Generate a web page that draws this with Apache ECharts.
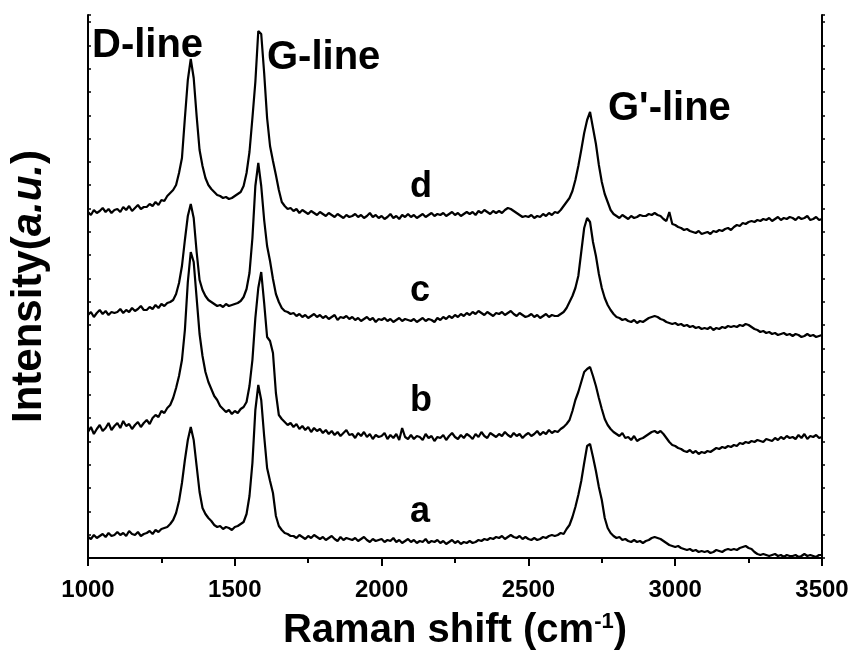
<!DOCTYPE html>
<html>
<head>
<meta charset="utf-8">
<title>Raman spectra</title>
<script src="https://cdn.jsdelivr.net/npm/echarts@6/dist/echarts.min.js"></script>
<style>
  html, body { margin: 0; padding: 0; background: #fff; }
  #chart { width: 851px; height: 654px; }
</style>
</head>
<body>
<div id="chart"></div>
<script>
// ── data (intensity in arbitrary units, one value every 10 cm-1) ──
const SHIFT_MIN = 1000
const SHIFT_MAX = 3500
const SHIFT_STEP = 10
const X_TICKS = [1000, 1500, 2000, 2500, 3000, 3500]

const curveA = [
  21,19,23,20,22,24,21,25,22,23,
  26,23,25,22,27,24,23,26,22,24,
  25,27,24,28,26,29,30,31,34,38,
  45,57,75,98,118,131,118,92,66,50,
  44,40,37,33,31,32,29,31,30,28,
  31,32,34,36,44,62,95,148,173,158,
  122,90,77,65,42,32,28,25,24,22,
  22,20,23,21,19,22,20,23,21,19,
  21,18,20,22,19,17,21,18,20,19,
  18,20,17,19,21,18,16,19,17,18,
  19,16,18,17,20,16,18,15,17,19,
  16,18,15,17,16,19,15,17,16,18,
  15,17,14,16,18,15,17,14,16,15,
  17,15,16,18,17,19,18,20,19,21,
  20,22,19,21,23,21,20,22,19,21,
  19,18,20,18,19,21,20,22,23,22,
  23,25,24,29,33,41,51,63,77,95,
  112,114,101,87,71,58,40,30,25,22,
  20,21,18,19,17,16,18,16,17,15,
  17,18,20,21,20,19,17,15,13,12,
  11,12,10,9,8,9,7,8,6,7,
  6,7,5,6,8,7,6,8,9,8,
  9,8,10,11,12,10,9,6,4,3,
  4,3,2,3,4,2,3,1,3,2,
  2,3,1,2,4,2,3,2,1,3,
  3
]

const curveB = [
  126,131,124,129,133,127,130,135,128,132,
  135,130,137,132,134,129,133,136,131,135,
  138,134,140,143,141,147,145,150,153,160,
  170,182,198,228,276,306,296,260,224,202,
  186,176,169,162,158,152,149,146,148,144,
  147,145,149,151,156,172,198,240,270,286,
  255,221,217,205,165,143,139,136,133,135,
  131,134,129,132,128,131,126,130,127,129,
  125,128,124,127,123,126,122,125,128,123,
  124,120,125,122,126,121,124,119,123,121,
  122,125,119,123,120,124,118,130,121,119,
  123,119,122,121,118,124,120,122,117,121,
  120,123,118,122,125,121,119,123,120,124,
  122,119,124,121,126,122,120,125,123,121,
  124,122,126,123,121,125,122,124,120,123,
  125,122,124,127,123,126,124,128,125,127,
  126,129,131,134,138,147,158,166,176,186,
  189,191,182,172,160,149,139,133,129,126,
  124,122,125,120,121,118,122,117,119,120,
  122,124,126,127,125,127,124,120,116,113,
  112,110,109,107,106,108,105,107,104,106,
  105,107,106,108,110,109,111,110,112,111,
  113,112,115,114,116,115,117,116,118,117,
  116,119,118,117,120,118,121,119,122,120,
  121,119,123,120,124,119,122,121,123,120,
  121
]

const curveC = [
  243,246,241,245,248,244,247,243,246,245,
  246,249,245,248,246,250,247,249,252,248,
  248,251,249,253,250,254,252,255,256,258,
  264,275,292,318,342,354,340,306,278,268,
  262,258,256,254,252,253,251,254,252,253,
  254,255,257,261,269,285,320,372,395,372,
  338,312,297,279,264,256,250,247,246,244,
  245,242,244,241,243,240,242,244,241,243,
  240,242,239,241,243,238,241,240,242,239,
  241,238,240,237,239,241,238,240,236,239,
  238,240,237,239,236,238,240,237,239,238,
  237,239,236,238,240,237,239,238,236,240,
  238,241,239,242,240,243,241,244,242,245,
  243,246,244,247,245,243,246,244,242,245,
  244,246,243,245,247,244,242,245,243,241,
  242,244,241,243,240,242,244,241,243,242,
  242,244,246,250,256,262,270,282,306,330,
  340,336,316,302,284,270,260,253,248,244,
  241,240,238,239,237,236,238,235,237,236,
  238,240,241,242,241,239,238,236,235,234,
  235,233,234,232,233,231,232,230,231,229,
  230,229,231,228,230,229,231,230,232,231,
  232,231,233,232,234,233,231,229,228,226,
  227,225,226,224,225,223,224,225,223,224,
  222,224,223,221,222,224,222,223,221,222,
  223
]

const curveD = [
  346,343,348,345,347,350,346,349,345,348,
  349,346,351,348,352,347,350,353,349,351,
  351,354,352,356,353,358,357,362,365,368,
  373,385,400,440,478,499,480,442,408,392,
  380,373,369,366,363,362,360,361,359,360,
  362,364,366,372,385,406,440,476,527,524,
  485,440,412,397,383,368,356,352,349,350,
  347,349,345,348,346,344,347,345,343,346,
  344,342,345,343,341,344,342,340,343,341,
  342,344,341,343,340,342,345,341,343,340,
  342,339,341,344,340,342,339,343,341,344,
  341,343,340,342,344,341,343,345,342,344,
  343,345,342,344,346,343,345,342,344,346,
  344,346,343,347,345,348,346,344,347,345,
  347,345,348,350,349,347,345,343,341,342,
  341,343,340,342,341,344,342,345,343,346,
  345,348,352,356,360,367,378,392,408,425,
  438,446,430,414,393,376,364,356,348,344,
  342,340,343,341,339,342,340,341,343,342,
  342,344,343,345,343,342,339,337,346,334,
  333,331,330,328,329,327,326,325,327,324,
  325,326,324,327,326,328,327,329,330,328,
  331,333,332,335,334,336,337,336,338,337,
  339,338,340,337,339,341,338,340,339,341,
  340,338,341,339,340,342,338,339,341,338,
  339
]

const CURVES = [
  { name: 'a', values: curveA },
  { name: 'b', values: curveB },
  { name: 'c', values: curveC },
  { name: 'd', values: curveD },
]

const Y_MAX = 543
const Y_TICK = 23.3

// ── styling ──
const FONT = "'Liberation Sans', Arial, Helvetica, sans-serif"
const INK = '#000'

const shift = []
for (let x = SHIFT_MIN; x <= SHIFT_MAX; x += SHIFT_STEP) shift.push(x)

const chart = echarts.init(document.getElementById('chart'), null, { renderer: 'canvas' })

const axisLine = { show: true, lineStyle: { color: INK, width: 2 } }

chart.setOption({
  animation: false,
  backgroundColor: '#fff',
  textStyle: { fontFamily: FONT, color: INK },
  grid: { left: 88, right: 29, top: 15, bottom: 96, containLabel: false, outerBoundsMode: 'none' },
  xAxis: [
    {
      type: 'value',
      position: 'bottom',
      min: SHIFT_MIN,
      max: SHIFT_MAX,
      interval: 500,
      axisLine,
      axisTick: { show: true, inside: false, length: 8, lineStyle: { color: INK, width: 2 } },
      minorTick: { show: true, splitNumber: 2, length: 5, lineStyle: { color: INK, width: 2 } },
      splitLine: { show: false },
      axisLabel: {
        margin: 20,
        fontFamily: FONT, fontSize: 24, fontWeight: 'bold', color: INK,
        formatter: (v) => (X_TICKS.includes(v) ? String(v) : ''),
        showMinLabel: true, showMaxLabel: true,
      },
      name: 'Raman shift (cm{sup|-1})',
      nameLocation: 'middle',
      nameGap: 53,
      nameMoveOverlap: false,
      nameTextStyle: {
        fontFamily: FONT, fontSize: 40, fontWeight: 'bold', color: INK,
        rich: { sup: { fontFamily: FONT, fontSize: 22, fontWeight: 'bold', color: INK, verticalAlign: 'top', padding: [0, 0, 4, 0] } },
      },
    },
    {
      type: 'value',
      position: 'top',
      min: SHIFT_MIN,
      max: SHIFT_MAX,
      interval: 250,
      axisLine,
      axisTick: { show: true, inside: true, length: 4, lineStyle: { color: INK, width: 1.5 } },
      axisLabel: { show: false },
      splitLine: { show: false },
    },
  ],
  yAxis: [
    {
      type: 'value',
      position: 'left',
      min: 0,
      max: Y_MAX,
      interval: Y_TICK,
      axisLine,
      axisTick: { show: true, inside: true, length: 3, lineStyle: { color: INK, width: 1.5 } },
      axisLabel: { show: false },
      splitLine: { show: false },
      name: 'Intensity({it|a.u.})',
      nameLocation: 'middle',
      nameRotate: 90,
      nameGap: 38,
      nameMoveOverlap: false,
      nameTextStyle: {
        fontFamily: FONT, fontSize: 42, fontWeight: 'bold', color: INK,
        rich: { it: { fontFamily: FONT, fontSize: 42, fontWeight: 'bold', fontStyle: 'italic', color: INK } },
      },
    },
    {
      type: 'value',
      position: 'right',
      min: 0,
      max: Y_MAX,
      interval: Y_TICK,
      axisLine,
      axisTick: { show: true, inside: false, length: 3, lineStyle: { color: INK, width: 1.5 } },
      axisLabel: { show: false },
      splitLine: { show: false },
    },
  ],
  series: CURVES.map((c) => ({
    name: c.name,
    type: 'line',
    xAxisIndex: 0,
    yAxisIndex: 0,
    data: shift.map((x, i) => [x, c.values[i]]),
    showSymbol: false,
    symbol: 'none',
    lineStyle: { color: INK, width: 2.2 },
    emphasis: { disabled: true },
    clip: true,
  })),
  graphic: [
    { type: 'text', x: 92, y: 46, style: { text: 'D-line', font: `bold 40px ${FONT}`, fill: INK, verticalAlign: 'middle' } },
    { type: 'text', x: 267, y: 58, style: { text: 'G-line', font: `bold 40px ${FONT}`, fill: INK, verticalAlign: 'middle' } },
    { type: 'text', x: 608, y: 109, style: { text: "G'-line", font: `bold 40px ${FONT}`, fill: INK, verticalAlign: 'middle' } },
    { type: 'text', x: 410, y: 187, style: { text: 'd', font: `bold 36px ${FONT}`, fill: INK, verticalAlign: 'middle' } },
    { type: 'text', x: 410, y: 291, style: { text: 'c', font: `bold 36px ${FONT}`, fill: INK, verticalAlign: 'middle' } },
    { type: 'text', x: 410, y: 401, style: { text: 'b', font: `bold 36px ${FONT}`, fill: INK, verticalAlign: 'middle' } },
    { type: 'text', x: 410, y: 512, style: { text: 'a', font: `bold 36px ${FONT}`, fill: INK, verticalAlign: 'middle' } },
  ],
})
</script>
</body>
</html>
